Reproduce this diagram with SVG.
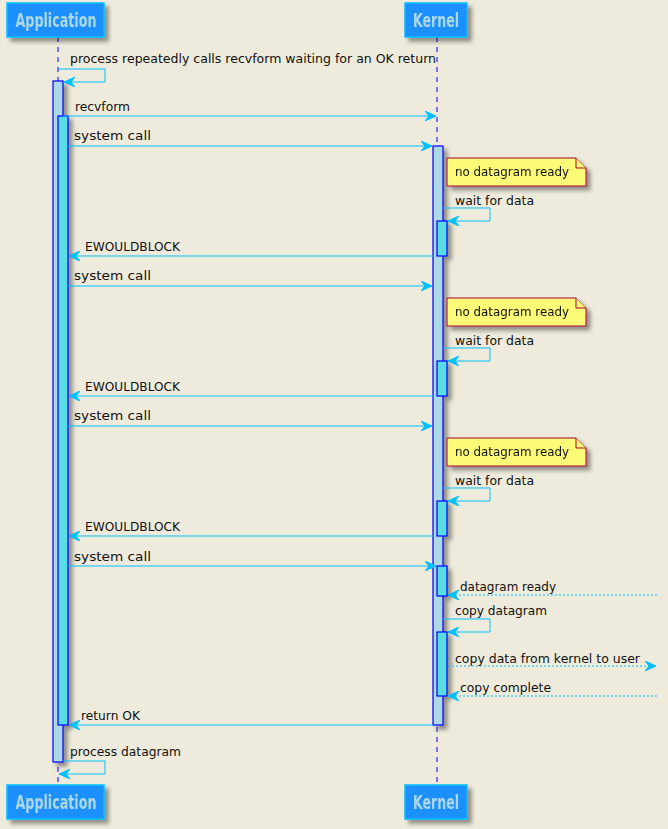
<svg xmlns="http://www.w3.org/2000/svg" width="668" height="829" viewBox="0 0 668 829">
<defs>
<filter id="sh" x="-20%" y="-20%" width="150%" height="150%">
<feGaussianBlur in="SourceAlpha" stdDeviation="2"/>
<feOffset dx="4" dy="4" result="b"/>
<feFlood flood-color="#000" flood-opacity="0.4"/>
<feComposite in2="b" operator="in"/>
<feMerge><feMergeNode/><feMergeNode in="SourceGraphic"/></feMerge>
</filter>
<marker id="ah" viewBox="0 0 12 10" refX="11" refY="5" markerWidth="12" markerHeight="10" markerUnits="userSpaceOnUse" orient="auto">
<path d="M0,0 L11,5 L0,10 L4,5 Z" fill="#00BFFF" stroke="#00BFFF" stroke-width="1"/>
</marker>
</defs>
<style>
.hbox{fill:#1E90FF;stroke:#00BFFF;stroke-width:1.5}
.htxt{font-family:"DejaVu Sans Condensed","DejaVu Sans",sans-serif;font-weight:bold;font-size:19px;fill:#ADD8E6}
.life{stroke:#0000FF;stroke-width:1;stroke-dasharray:5,5}
.act1{fill:#ADD8E6;stroke:#0000FF;stroke-width:1.2}
.act2{fill:#5ADCE3;stroke:#0000FF;stroke-width:1.2}
.msg{fill:none;stroke:#00BFFF;stroke-width:1}
.dot{stroke-dasharray:2,2}
.t{font-family:"DejaVu Sans",sans-serif;font-size:13px;fill:#111}
.note{fill:#FBFB77;stroke:#A80036;stroke-width:1}
</style>
<rect width="668" height="829" fill="#EEEBDC"/>

<g id="lifelines">
<line class="life" x1="58" y1="37" x2="58" y2="785"/>
<line class="life" x1="437" y1="37" x2="437" y2="785"/>
</g>

<g id="app-top" filter="url(#sh)">
<rect class="hbox" x="7" y="3" width="97" height="34"/>
<text class="htxt" x="56" y="27" text-anchor="middle" textLength="81" lengthAdjust="spacingAndGlyphs">Application</text>
</g>
<g id="kernel-top" filter="url(#sh)">
<rect class="hbox" x="405" y="3" width="62" height="34"/>
<text class="htxt" x="436" y="27" text-anchor="middle" textLength="46" lengthAdjust="spacingAndGlyphs">Kernel</text>
</g>
<g id="app-bottom" filter="url(#sh)">
<rect class="hbox" x="7" y="785" width="97" height="34"/>
<text class="htxt" x="56" y="809" text-anchor="middle" textLength="81" lengthAdjust="spacingAndGlyphs">Application</text>
</g>
<g id="kernel-bottom" filter="url(#sh)">
<rect class="hbox" x="405" y="785" width="62" height="34"/>
<text class="htxt" x="436" y="809" text-anchor="middle" textLength="46" lengthAdjust="spacingAndGlyphs">Kernel</text>
</g>

<g id="activations" filter="url(#sh)">
<rect class="act1" x="53" y="81" width="10" height="681"/>
<rect class="act2" x="58" y="116" width="10" height="609"/>
<rect class="act1" x="433" y="146" width="10" height="579"/>
<rect class="act2" x="437" y="221" width="10" height="35"/>
<rect class="act2" x="437" y="361" width="10" height="35"/>
<rect class="act2" x="437" y="501" width="10" height="35"/>
<rect class="act2" x="437" y="566" width="10" height="30"/>
<rect class="act2" x="437" y="632" width="10" height="64"/>
</g>

<g id="notes">
<g id="note1" filter="url(#sh)">
<path class="note" d="M447,158 L576,158 L586,168 L586,186 L447,186 Z"/>
<path class="note" d="M576,158 L576,168 L586,168"/>
<text class="t" x="455" y="176" textLength="114" lengthAdjust="spacingAndGlyphs">no datagram ready</text>
</g>
<g id="note2" filter="url(#sh)">
<path class="note" d="M447,298 L576,298 L586,308 L586,326 L447,326 Z"/>
<path class="note" d="M576,298 L576,308 L586,308"/>
<text class="t" x="455" y="316" textLength="114" lengthAdjust="spacingAndGlyphs">no datagram ready</text>
</g>
<g id="note3" filter="url(#sh)">
<path class="note" d="M447,438 L576,438 L586,448 L586,466 L447,466 Z"/>
<path class="note" d="M576,438 L576,448 L586,448"/>
<text class="t" x="455" y="456" textLength="114" lengthAdjust="spacingAndGlyphs">no datagram ready</text>
</g>
</g>

<g id="connectors">
<path class="msg" d="M58,69 L105,69 L105,82 L64,82" marker-end="url(#ah)"/>
<text class="t" x="70" y="63" textLength="366" lengthAdjust="spacingAndGlyphs">process repeatedly calls recvform waiting for an OK return</text>

<path class="msg" d="M63,116 L436,116" marker-end="url(#ah)"/>
<text class="t" x="75" y="111" textLength="55" lengthAdjust="spacingAndGlyphs">recvform</text>

<path class="msg" d="M68,146 L432,146" marker-end="url(#ah)"/>
<text class="t" x="74" y="140" textLength="77" lengthAdjust="spacingAndGlyphs">system call</text>

<path class="msg" d="M443,208 L490,208 L490,221 L448,221" marker-end="url(#ah)"/>
<text class="t" x="455" y="205" textLength="79" lengthAdjust="spacingAndGlyphs">wait for data</text>

<path class="msg" d="M433,256 L69,256" marker-end="url(#ah)"/>
<text class="t" x="85" y="251" textLength="95" lengthAdjust="spacingAndGlyphs">EWOULDBLOCK</text>

<path class="msg" d="M68,286 L432,286" marker-end="url(#ah)"/>
<text class="t" x="74" y="280" textLength="77" lengthAdjust="spacingAndGlyphs">system call</text>

<path class="msg" d="M443,348 L490,348 L490,361 L448,361" marker-end="url(#ah)"/>
<text class="t" x="455" y="345" textLength="79" lengthAdjust="spacingAndGlyphs">wait for data</text>

<path class="msg" d="M433,396 L69,396" marker-end="url(#ah)"/>
<text class="t" x="85" y="391" textLength="95" lengthAdjust="spacingAndGlyphs">EWOULDBLOCK</text>

<path class="msg" d="M68,426 L432,426" marker-end="url(#ah)"/>
<text class="t" x="74" y="420" textLength="77" lengthAdjust="spacingAndGlyphs">system call</text>

<path class="msg" d="M443,488 L490,488 L490,501 L448,501" marker-end="url(#ah)"/>
<text class="t" x="455" y="485" textLength="79" lengthAdjust="spacingAndGlyphs">wait for data</text>

<path class="msg" d="M433,536 L69,536" marker-end="url(#ah)"/>
<text class="t" x="85" y="531" textLength="95" lengthAdjust="spacingAndGlyphs">EWOULDBLOCK</text>

<path class="msg" d="M68,566 L436,566" marker-end="url(#ah)"/>
<text class="t" x="74" y="561" textLength="77" lengthAdjust="spacingAndGlyphs">system call</text>

<path class="msg dot" d="M657,595 L448,595" marker-end="url(#ah)"/>
<text class="t" x="460" y="591" textLength="96" lengthAdjust="spacingAndGlyphs">datagram ready</text>

<path class="msg" d="M443,619 L490,619 L490,632 L448,632" marker-end="url(#ah)"/>
<text class="t" x="455" y="615" textLength="92" lengthAdjust="spacingAndGlyphs">copy datagram</text>

<path class="msg dot" d="M448,666 L656,666" marker-end="url(#ah)"/>
<text class="t" x="455" y="663" textLength="185" lengthAdjust="spacingAndGlyphs">copy data from kernel to user</text>

<path class="msg dot" d="M657,696 L448,696" marker-end="url(#ah)"/>
<text class="t" x="460" y="692" textLength="91" lengthAdjust="spacingAndGlyphs">copy complete</text>

<path class="msg" d="M433,725 L69,725" marker-end="url(#ah)"/>
<text class="t" x="81" y="720" textLength="59" lengthAdjust="spacingAndGlyphs">return OK</text>

<path class="msg" d="M63,761 L105,761 L105,774 L59,774" marker-end="url(#ah)"/>
<text class="t" x="70" y="756" textLength="111" lengthAdjust="spacingAndGlyphs">process datagram</text>
</g>
</svg>
